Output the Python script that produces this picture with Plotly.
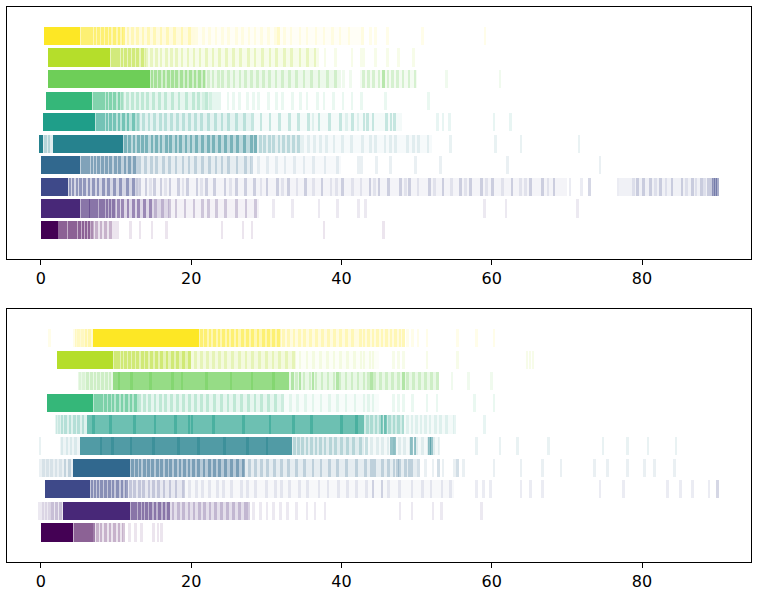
import plotly.graph_objects as go

# viridis colours for rows 0..9
row_colors = ["#440154", "#482878", "#3e4989", "#31688e", "#26828e",
              "#1f9e89", "#35b779", "#6ece58", "#b5de2b", "#fde725"]

x_ticks = [0, 20, 40, 60, 80]

# ---------- TOP PANEL: per row, saturated spans, hazy spans and events by intensity ----------
top_core = [
    [[0, 2.3]], [[0, 5.2]], [[0, 3.6]], [[0, 5.2]], [[-0.2, 0.3], [1.6, 11.0]],
    [[0.3, 7.2]], [[0.7, 6.8]], [[0.9, 14.5]], [[1.0, 9.2]], [[0.4, 5.2]],
]
top_core_alpha = [1.0] * 10
top_haze = [
    [[2.3, 7, 0.3], [7, 10, 0.1]],
    [[5.2, 10, 0.35], [10, 17, 0.18], [17, 29, 0.06]],
    [[3.6, 13, 0.22], [13, 70, 0.06], [77, 90, 0.08]],
    [[5.2, 13, 0.3], [13, 28, 0.12], [28, 40, 0.04]],
    [[0.3, 1.6, 0.15], [11, 28.8, 0.3], [28.8, 35, 0.12], [35, 52, 0.04]],
    [[7.2, 13, 0.3], [13, 28, 0.12], [28, 48, 0.05]],
    [[6.8, 11, 0.3], [11, 24, 0.12]],
    [[14.5, 22, 0.3], [22, 40, 0.12], [42.5, 50, 0.08]],
    [[9.2, 14, 0.3], [14, 37, 0.1]],
    [[5.2, 11, 0.35], [11, 20.5, 0.15], [20.5, 43, 0.04]],
]
top_strong = [
    [2.5, 2.9, 3.3, 3.8, 4.2, 4.6, 5.1, 5.6, 6.0, 6.4],
    [5.5, 5.9, 6.3, 6.6, 7.0, 7.4, 7.9, 8.3, 8.8, 9.2, 9.7, 10.3, 10.9, 11.6, 12.3, 13.0, 13.8, 14.6],
    [3.9, 4.3, 4.8, 5.3, 5.8, 6.4, 7.0, 7.6, 8.3, 9.0, 9.8, 10.6, 11.5, 12.3, 89.5, 89.8, 90.0],
    [5.5, 5.9, 6.3, 6.8, 7.2, 7.7, 8.2, 8.7, 9.3, 9.9, 10.5, 11.2, 11.8, 12.5],
    [11.3, 11.8, 12.4, 13.0, 13.5, 14.1, 14.8, 15.4, 16.0, 16.7, 17.3, 18.0, 18.6, 19.3, 20.0,
     20.7, 21.5, 22.3, 23.0, 23.8, 24.6, 25.4, 26.2, 27.1, 28.0, 28.6],
    [7.5, 7.9, 8.3, 8.8, 9.3, 9.8, 10.4, 11.0, 11.6, 12.3],
    [7.1, 7.5, 7.9, 8.3, 8.8, 9.3, 9.8, 10.4],
    [14.8, 15.3, 15.8, 16.4, 17.0, 17.5, 18.1, 18.7, 19.3, 19.9, 20.5, 21.1, 21.7, 45.6],
    [9.5, 9.9, 10.3, 10.8, 11.3, 11.8, 12.3, 12.9, 13.5],
    [5.5, 5.9, 6.3, 6.7, 7.2, 7.7, 8.2, 8.7, 9.2, 9.8, 10.4, 11.0],
]
top_medium = [
    [6.9, 7.4, 8.0, 8.6, 9.3],
    [15.3, 16.2, 17.1, 18.0, 19.2, 20.4, 21.5, 22.3, 23.4, 24.6, 26.0, 27.3, 28.6],
    [13.2, 14.0, 15.1, 16.0, 17.2, 18.3, 19.5, 20.8, 22.0, 23.1, 24.5, 26.0, 27.2, 28.4, 30.1,
     31.5, 33.0, 35.2, 37.4, 40.1, 43.8, 45.0, 46.3, 47.9, 49.1, 51.7, 53.5, 55.8, 57.2, 58.6,
     60.1, 62.7, 65.2, 66.8, 68.3, 73.0, 79.4, 80.2, 81.1, 82.5, 84.0, 85.3, 86.7, 87.9, 88.8, 89.2],
    [13.2, 13.9, 14.7, 15.4, 16.3, 17.1, 18.0, 18.9, 19.7, 20.6, 21.5, 22.4, 23.3, 24.1, 25.0,
     26.1, 27.2, 28.0],
    [0.6, 1.1, 29.2, 29.8, 30.4, 31.0, 31.7, 32.3, 33.0, 33.6, 34.3],
    [13.0, 13.7, 14.4, 15.1, 15.9, 16.6, 17.4, 18.2, 19.0, 19.8, 20.6, 21.4, 22.3, 23.2, 24.1,
     25.0, 26.0, 27.1, 28.2, 29.3, 30.5, 31.8, 33.1, 34.3, 35.6, 37.0, 38.4, 39.9, 41.5, 43.0,
     43.5, 44.2, 46.0, 46.6, 47.1],
    [10.9, 11.5, 12.2, 12.9, 13.5, 14.2, 15.0, 15.8, 16.6, 17.5, 18.4, 19.4, 20.3, 21.0, 22.0],
    [22.3, 22.9, 23.6, 24.2, 25.0, 25.7, 26.5, 27.2, 28.0, 28.8, 29.6, 30.4, 31.3, 32.2, 33.1,
     34.0, 35.0, 36.0, 37.0, 38.1, 39.2, 42.9, 43.6, 44.3, 45.0, 46.2, 46.8, 47.5, 48.2, 49.0, 49.8],
    [14.1, 14.7, 15.4, 16.0, 16.7, 17.4, 18.1, 18.8, 19.6, 20.4, 21.2, 22.0, 22.9, 23.8, 24.7,
     25.6, 26.6, 27.6, 28.5, 29.5, 30.5, 31.4, 32.4, 33.4, 34.5, 35.5, 36.5],
    [11.6, 12.2, 12.9, 13.6, 14.3, 15.1, 16.0, 16.9, 17.8, 18.8, 19.8, 31.6],
]
top_faint = [
    [10.2, 11.9, 13.2, 14.8, 16.7, 24.1, 26.9, 28.1, 37.7, 45.6],
    [31.0, 33.5, 37.0, 39.5, 42.3, 43.2, 59.0, 61.9, 71.4],
    [12.8, 14.6, 16.6, 18.9, 21.4, 25.2, 29.3, 32.2, 34.1, 36.3, 38.6, 39.3, 41.5, 42.6, 44.4,
     48.5, 50.2, 52.4, 54.6, 56.5, 59.3, 61.4, 63.8, 64.5, 67.5, 70.4, 71.9, 76.8, 78.9, 81.8,
     83.2, 85.9, 87.2, 88.3],
    [29.0, 30.2, 31.4, 32.5, 33.8, 35.0, 36.3, 37.8, 39.5, 42.3, 42.7, 44.7, 46.5, 49.9, 53.2,
     62.1, 74.4],
    [35.6, 36.4, 37.2, 38.0, 39.0, 40.1, 41.3, 42.8, 43.9, 44.5, 45.8, 46.5, 47.2, 48.8, 49.6,
     50.3, 51.5, 54.5, 60.5, 63.9, 71.6],
    [36.2, 40.7, 42.2, 52.8, 53.5, 54.4, 60.3, 62.5],
    [21.6, 22.6, 24.9, 25.6, 26.4, 27.5, 28.3, 29.0, 30.3, 31.4, 32.2, 33.5, 34.6, 35.4, 36.8,
     37.7, 38.9, 40.2, 41.4, 42.7, 45.9, 51.6],
    [40.3, 41.2, 54.0, 61.1],
    [37.8, 39.2, 41.4, 42.7, 43.0, 44.5, 46.1, 47.6, 49.6],
    [20.7, 21.6, 22.4, 23.3, 24.2, 25.0, 26.0, 26.8, 27.7, 28.5, 29.4, 30.3, 31.2, 32.4, 33.3,
     34.5, 35.4, 36.6, 37.7, 38.8, 39.8, 41.0, 42.8, 43.9, 44.5, 46.1, 50.8, 59.1],
]

# ---------- BOTTOM PANEL ----------
bot_core = [
    [[0, 4.3]], [[3.0, 11.9]], [[0.6, 6.5]], [[4.3, 11.9]], [[5.2, 33.4]],
    [[6.1, 43.0]], [[0.8, 7.0]], [[9.6, 33.0]], [[2.2, 9.6]], [[7.0, 21.0]],
]
bot_core_alpha = [1.0, 1.0, 1.0, 1.0, 0.8, 0.65, 1.0, 0.72, 1.0, 1.0]
bot_haze = [
    [[4.3, 7, 0.3], [7, 11, 0.1]],
    [[0, 3.0, 0.1], [11.9, 17.2, 0.35], [17.2, 27.6, 0.15]],
    [[6.5, 11.4, 0.3], [11.4, 19, 0.12], [19, 55, 0.04]],
    [[0, 4.3, 0.1], [11.9, 27, 0.35], [27, 50, 0.12]],
    [[2.5, 5.2, 0.08], [33.4, 43, 0.15], [43, 53, 0.05]],
    [[2, 6.1, 0.15], [43, 48.3, 0.2], [48.3, 55, 0.05]],
    [[7, 13, 0.35], [13, 32, 0.12], [32, 45, 0.04]],
    [[5, 9.6, 0.15], [33, 53, 0.15]],
    [[9.6, 20, 0.35], [20, 34, 0.15], [34, 45, 0.04]],
    [[4.5, 7, 0.2], [21, 32, 0.35], [32, 48.5, 0.15]],
]
bot_strong = [
    [4.6, 5.0, 5.4, 5.8, 6.2, 6.6, 7.0],
    [12.2, 12.6, 13.1, 13.6, 14.1, 14.6, 15.2, 15.8, 16.4, 17.0],
    [6.8, 7.2, 7.6, 8.1, 8.6, 9.1, 9.6, 10.2, 10.8, 11.4],
    [12.2, 12.7, 13.2, 13.8, 14.3, 14.9, 15.5, 16.1, 16.7, 17.3, 17.9, 18.5, 19.1, 19.7, 20.3,
     21.0, 21.7, 22.4, 23.1, 23.8, 24.6, 25.4, 26.2, 27.0],
    [8.0, 9.5, 12.0, 15.0, 18.3, 21.0, 24.4, 27.5, 30.1, 46.7, 47.1, 49.3, 49.8, 51.7, 52.0],
    [7.0, 9.3, 12.5, 15.2, 17.9, 19.7, 20.1, 23.0, 27.0, 30.5, 33.6, 36.0, 40.0, 42.0, 45.4, 45.9],
    [7.3, 7.7, 8.1, 8.6, 9.1, 9.6, 10.2, 10.8, 11.4, 12.0, 12.6],
    [10.4, 12.1, 14.6, 17.5, 18.8, 22.0, 25.3, 28.1, 31.0, 33.5, 34.5, 36.2, 39.5, 44.0, 48.3],
    [9.9, 10.3, 10.8, 11.3, 11.8, 12.3, 12.9, 13.5, 14.1, 14.7, 15.4, 16.1, 16.8, 17.5, 18.2,
     19.0, 19.8],
    [21.4, 21.9, 22.5, 23.1, 23.7, 24.3, 24.9, 25.5, 26.1, 26.8, 27.5, 28.2, 28.9, 29.6, 30.3,
     31.0, 31.6],
]
bot_medium = [
    [7.5, 8.0, 8.6, 9.2, 9.8, 10.4, 11.0],
    [1.6, 2.1, 2.6, 17.6, 18.3, 19.0, 19.7, 20.4, 21.1, 21.8, 22.5, 23.2, 24.0, 24.8, 25.6,
     26.4, 27.2, 27.6],
    [11.9, 12.5, 13.1, 13.7, 14.4, 15.0, 15.7, 16.4, 17.2, 18.0, 19.0, 44.2, 45.4, 90.0],
    [3.2, 3.8, 27.8, 28.6, 29.4, 30.2, 31.1, 32.0, 33.0, 34.0, 35.1, 36.2, 37.3, 38.4, 39.5,
     40.7, 42.0, 43.2, 44.0, 44.4, 45.5, 46.3, 47.0, 47.5, 47.7, 48.5, 49.0, 49.3, 50.3, 52.9, 55.4],
    [33.8, 34.3, 34.8, 35.4, 36.0, 36.6, 37.2, 37.8, 38.5, 39.2, 40.0, 40.8, 41.6, 42.5, 43.3],
    [2.8, 3.3, 3.9, 4.5, 5.0, 5.6, 43.5, 44.0, 44.6, 45.2, 45.8, 46.4, 47.0, 47.6, 48.2],
    [13.2, 13.8, 14.5, 15.2, 15.9, 16.6, 17.4, 18.2, 19.0, 19.8, 20.6, 21.4, 22.2, 23.1, 24.0,
     24.9, 25.8, 26.7, 27.6, 28.5, 29.4, 30.3, 31.2, 32.2],
    [6.2, 6.7, 7.2, 7.7, 8.2, 8.7, 9.2, 34.0, 35.0, 35.8, 36.6, 37.4, 38.2, 39.0, 39.8, 40.6,
     41.4, 42.2, 43.0, 43.6, 44.4, 45.2, 46.0, 46.8, 47.6, 48.8, 49.6, 50.4, 51.2, 52.0, 52.8],
    [20.6, 21.4, 22.2, 23.0, 23.8, 24.6, 25.5, 26.4, 27.3, 28.2, 29.1, 30.0, 30.9, 31.8, 32.7, 33.6],
    [6.0, 6.5, 32.3, 33.0, 33.7, 34.4, 35.1, 35.9, 36.7, 37.5, 38.3, 39.1, 39.9, 40.7, 41.5,
     42.5, 43.0, 43.6, 44.2, 44.8, 45.4, 46.0, 46.6, 47.2, 47.8, 48.3],
]
bot_faint = [
    [11.8, 12.6, 13.4, 15.0, 15.6, 16.1],
    [-0.2, 0.3, 0.7, 1.2, 28.3, 29.2, 30.1, 31.0, 31.9, 32.8, 34.0, 35.4, 36.5, 37.8, 47.8,
     49.4, 52.2, 53.3, 58.6],
    [19.8, 20.7, 21.5, 22.4, 23.5, 24.3, 25.4, 26.7, 27.5, 28.6, 30.0, 31.2, 32.0, 33.1, 34.4,
     35.5, 37.0, 38.2, 39.6, 40.8, 42.0, 43.3, 46.3, 47.7, 49.4, 50.8, 51.9, 53.4, 54.5, 58.0,
     58.9, 59.8, 63.9, 65.2, 66.8, 74.4, 77.5, 83.4, 85.1, 86.7, 88.9],
    [-0.1, 0.4, 0.9, 1.4, 2.0, 2.6, 51.2, 52.2, 53.5, 55.0, 56.2, 60.3, 63.9, 66.8, 69.2, 73.7,
     75.4, 78.1, 80.3, 81.7, 84.3],
    [-0.1, 2.8, 3.5, 4.0, 4.6, 44.0, 44.8, 45.5, 46.2, 47.0, 47.7, 48.4, 49.2, 50.0, 50.8,
     51.5, 52.3, 53.0, 58.0, 61.1, 63.4, 67.6, 74.8, 78.1, 80.8, 84.5],
    [2.0, 2.4, 48.8, 49.4, 50.0, 50.6, 51.2, 51.8, 52.5, 53.2, 54.0, 55.0, 59.0],
    [33.2, 34.2, 35.2, 36.2, 37.3, 38.4, 39.5, 40.6, 41.8, 43.0, 43.6, 44.2, 46.9, 47.6, 48.3,
     49.5, 51.4, 52.7, 57.7, 60.3],
    [5.2, 5.7, 54.7, 56.9, 60.0],
    [34.5, 35.4, 36.3, 37.2, 38.1, 39.0, 39.9, 40.8, 41.7, 42.6, 43.0, 43.8, 44.2, 46.9, 47.6,
     48.3, 51.4, 55.4, 64.7, 65.1, 65.5],
    [1.2, 4.5, 5.0, 5.5, 48.8, 49.5, 50.2, 51.4, 55.4, 58.0, 60.3],
]

tier_alpha = {"strong": 0.45, "medium": 0.22, "faint": 0.1}
EVENT_W = 0.36
HALF = 0.42


def rgba(hexc, a):
    h = hexc.lstrip("#")
    r, g, b = int(h[0:2], 16), int(h[2:4], 16), int(h[4:6], 16)
    return f"rgba({r},{g},{b},{a})"


fig = go.Figure()


def span_bar(spans, r, color, xa, ya):
    return go.Bar(
        x=[(s[0] + s[1]) / 2 for s in spans], y=[2 * HALF] * len(spans),
        base=[r - HALF] * len(spans), width=[s[1] - s[0] for s in spans],
        marker=dict(color=color, line=dict(width=0)),
        xaxis=xa, yaxis=ya, showlegend=False, hoverinfo="skip")


def add_panel(core, core_alpha, haze, strong, medium, faint, xa, ya):
    for r in range(10):
        col = row_colors[r]
        for hz in haze[r]:
            fig.add_trace(span_bar([hz], r, rgba(col, hz[2]), xa, ya))
        fig.add_trace(span_bar(core[r], r, rgba(col, core_alpha[r]), xa, ya))
        for name, ev in (("strong", strong[r]), ("medium", medium[r]), ("faint", faint[r])):
            fig.add_trace(go.Bar(
                x=ev, y=[2 * HALF] * len(ev), base=[r - HALF] * len(ev), width=EVENT_W,
                marker=dict(color=rgba(col, tier_alpha[name]), line=dict(width=0)),
                xaxis=xa, yaxis=ya, showlegend=False, hoverinfo="skip"))


add_panel(top_core, top_core_alpha, top_haze, top_strong, top_medium, top_faint, "x", "y")
add_panel(bot_core, bot_core_alpha, bot_haze, bot_strong, bot_medium, bot_faint, "x2", "y2")

W, H = 759, 593
xdom = [7 / W, 751 / W]
xcommon = dict(range=[-4.5, 94.5], tickvals=x_ticks, ticks="outside", ticklen=5, tickwidth=1.2,
               tickcolor="black", showline=True, linecolor="black", linewidth=1.2, mirror=True,
               showgrid=False, zeroline=False, domain=xdom,
               tickfont=dict(family="DejaVu Sans", size=16, color="black"))
ycommon = dict(range=[-1.34, 10.34], showticklabels=False, ticks="", showline=True,
               linecolor="black", linewidth=1.2, mirror=True, showgrid=False, zeroline=False)

fig.update_layout(
    width=W, height=H, margin=dict(l=0, r=0, t=0, b=0),
    paper_bgcolor="white", plot_bgcolor="white", barmode="overlay", bargap=0,
    xaxis=dict(**xcommon, anchor="y"),
    yaxis=dict(**ycommon, domain=[1 - 259 / H, 1 - 7 / H], anchor="x"),
    xaxis2=dict(**xcommon, anchor="y2"),
    yaxis2=dict(**ycommon, domain=[1 - 561.5 / H, 1 - 309 / H], anchor="x2"),
)

fig.write_html("out.html")
